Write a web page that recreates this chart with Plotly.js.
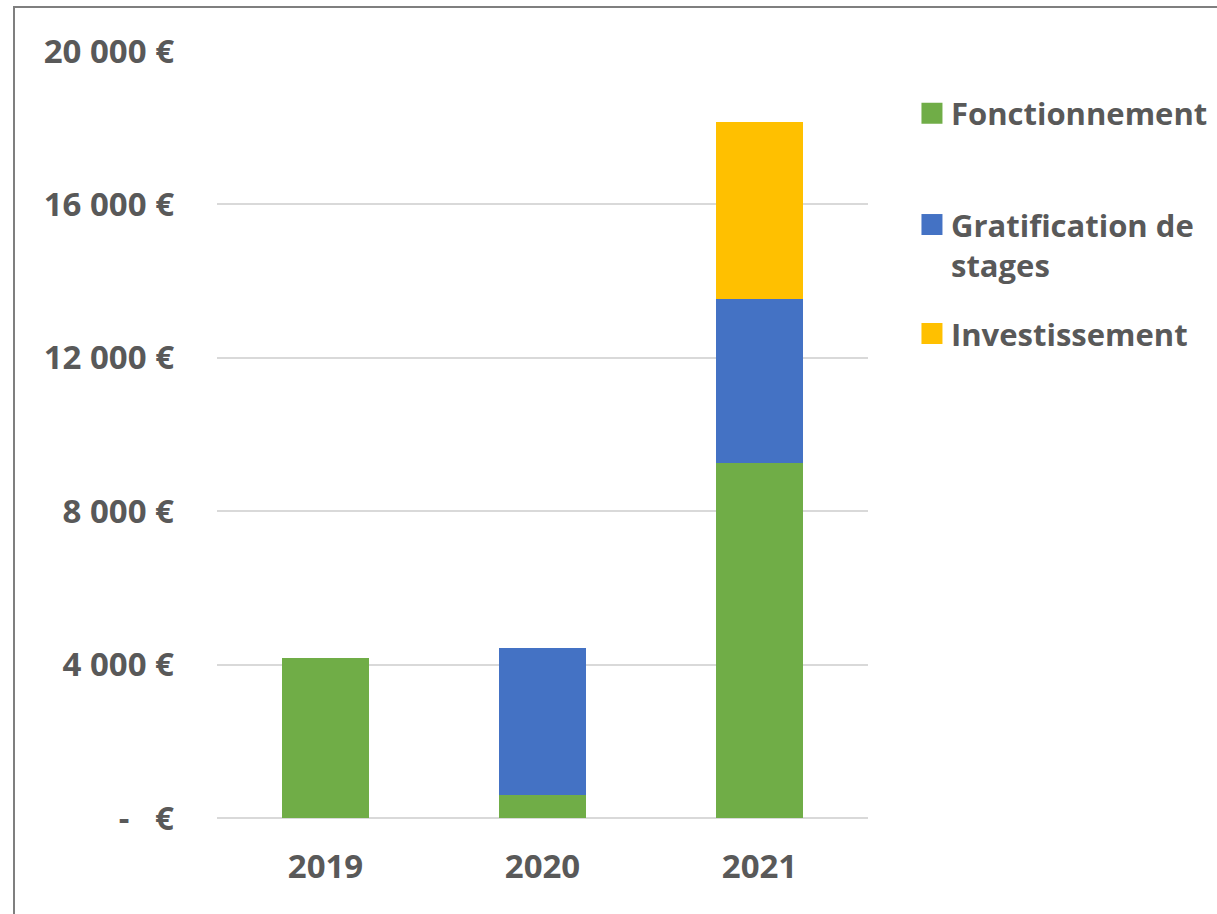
<!DOCTYPE html>
<html>
<head>
<meta charset="utf-8">
<script src="https://cdn.plot.ly/plotly-3.0.1.min.js"></script>
<style>
  html, body { margin: 0; padding: 0; background: #fff; }
  #wrap { position: relative; width: 1217px; height: 914px; overflow: hidden; }
  #chart { width: 1217px; height: 914px; }
  #frame { position: absolute; left: 13px; top: 6px; width: 1300px; height: 1000px; border: 2px solid #7f7f7f; pointer-events: none; }
</style>
</head>
<body>
<div id="wrap">
  <div id="chart"></div>
  <div id="frame"></div>
</div>
<script>
const years = ['2019', '2020', '2021'];
const fonctionnement = [4170, 600, 9260];
const gratification = [0, 3830, 4270];
const investissement = [0, 0, 4620];
const seriesNames = ['Fonctionnement', 'Gratification de<br>stages', 'Investissement'];
const seriesColors = ['#70AD47', '#4472C4', '#FFC000'];
const yTickVals = [0, 4000, 8000, 12000, 16000, 20000];
const yTickText = ['-   €', '4 000 €', '8 000 €', '12 000 €', '16 000 €', '20 000 €'];

const fam = '"Open Sans", Lato, sans-serif';
const font = { family: fam, size: 33, color: '#595959', weight: 700 };
const values = [fonctionnement, gratification, investissement];
const legendIds = ['legend', 'legend2', 'legend3'];

const traces = values.map((v, i) => ({
  type: 'bar',
  x: years,
  y: v,
  name: seriesNames[i],
  legend: legendIds[i],
  marker: { color: seriesColors[i], line: { width: 0 } },
  width: 0.4,
  hoverinfo: 'x+y+name'
}));

function legendAt(yPaper) {
  return {
    x: 1.066, y: yPaper, xanchor: 'left', yanchor: 'top',
    font: { family: fam, size: 31, color: '#595959', weight: 700 },
    bgcolor: 'rgba(0,0,0,0)', borderwidth: 0,
    itemwidth: 30, valign: 'top'
  };
}

const layout = {
  width: 1217, height: 914,
  margin: { l: 217, r: 349, t: 51, b: 96, autoexpand: false },
  paper_bgcolor: '#ffffff', plot_bgcolor: '#ffffff',
  barmode: 'stack',
  bargap: 0.6,
  showlegend: true,
  legend: legendAt(0.9535),
  legend2: legendAt(0.8085),
  legend3: legendAt(0.6665),
  xaxis: {
    type: 'category',
    tickfont: font,
    showgrid: false,
    showline: false,
    zeroline: false,
    ticks: '',
    ticklabelstandoff: 26
  },
  yaxis: {
    range: [0, 20000],
    tickvals: yTickVals,
    ticktext: yTickText,
    tickfont: font,
    showgrid: true,
    gridcolor: '#d9d9d9',
    gridwidth: 1.5,
    zeroline: true,
    zerolinecolor: '#d9d9d9',
    zerolinewidth: 1.5,
    showline: false,
    ticks: '',
    ticklabelstandoff: 42
  }
};

const gd = document.getElementById('chart');
function enlargeLegendSymbols() {
  gd.querySelectorAll('.legendpoints path').forEach(p => {
    p.setAttribute('d', 'M10.5,10.5H-10.5V-10.5H10.5Z');
    p.setAttribute('transform', 'translate(21,0)');
  });
}
Plotly.newPlot(gd, traces, layout, { displayModeBar: false }).then(() => {
  enlargeLegendSymbols();
  gd.on('plotly_afterplot', enlargeLegendSymbols);
});
</script>
</body>
</html>
